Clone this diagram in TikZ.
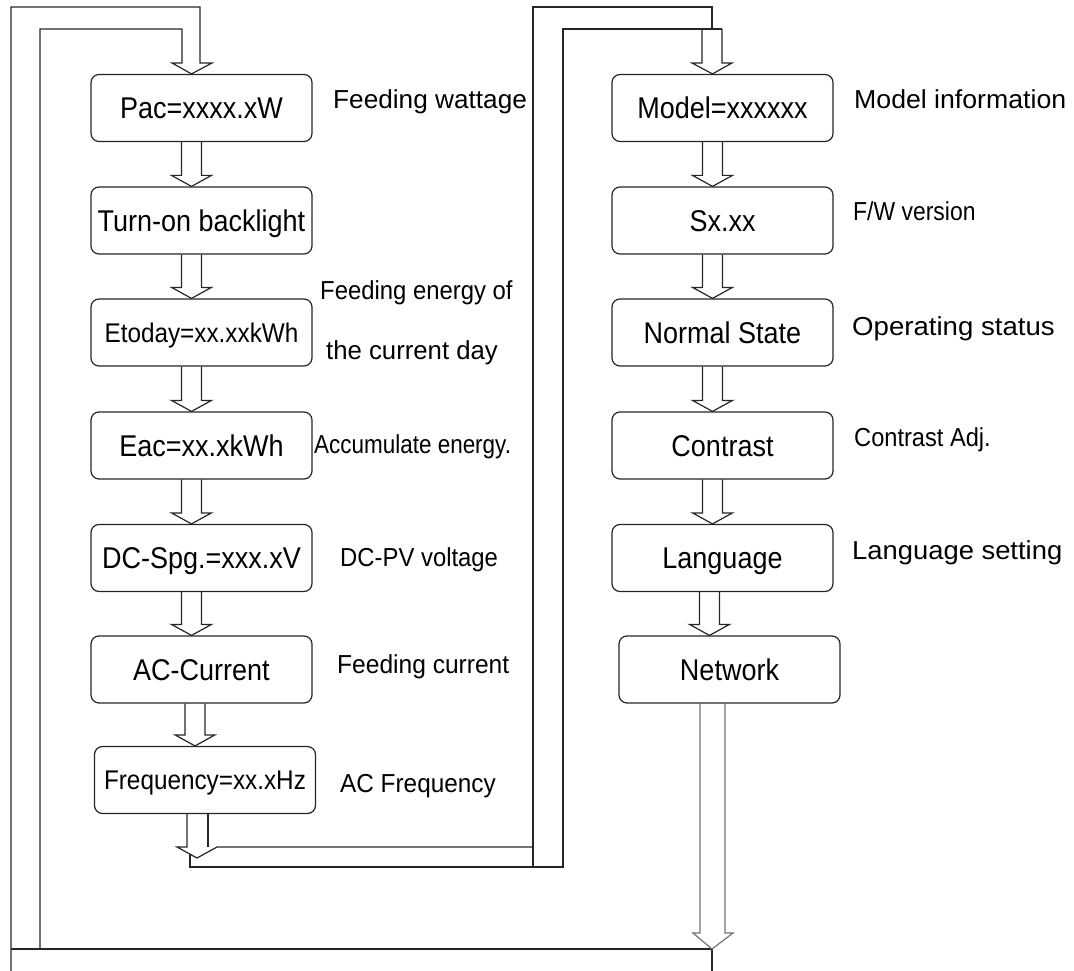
\documentclass[tikz,border=0pt]{standalone}
\usepackage{fontspec}
\setmainfont[FakeStretch=0.9]{Liberation Sans}
\usetikzlibrary{calc}
\newcommand\blockarrow[3][-10]{%
  \draw[ln] let \p1=(#2.south), \p2=(#3.north) in
    ({\x1+(#1pt)-10pt},\y1) -- ({\x1+(#1pt)-10pt},{\y2+11pt}) -- ({\x1+(#1pt)-20pt},{\y2+11pt})
    -- ({\x1+(#1pt)},\y2) -- ({\x1+(#1pt)+20pt},{\y2+11pt}) -- ({\x1+(#1pt)+10pt},{\y2+11pt})
    -- ({\x1+(#1pt)+10pt},\y1);}
\newcommand\wlbl[2]{\scalebox{#1}[1]{#2}}
\begin{document}
\begin{tikzpicture}[x=1pt,y=-1pt,
  ln/.style={line width=1.2pt, draw=black!85, line join=miter},
  box/.style={draw=black!85, line width=1.2pt, rounded corners=8pt, minimum width=221pt,
    minimum height=67pt, inner sep=0pt, font=\fontsize{30}{30}\selectfont,
    text height=21pt, text depth=0pt},
  smallbox/.style={box, font=\fontsize{27}{27}\selectfont, text height=19pt},
  lbl/.style={anchor=base west, inner sep=0pt, font=\fontsize{26}{26}\selectfont}]
\useasboundingbox (0,0) rectangle (1074,971);
% left column
\node[box] (pac) at (201.5,108) {Pac=xxxx.xW};
\node[box] (turn) at (201.5,220.5) {Turn-on backlight};
\node[smallbox] (etoday) at (201.5,332.5) {Etoday=xx.xxkWh};
\node[box] (eac) at (201.5,445.5) {Eac=xx.xkWh};
\node[box] (dc) at (201.5,558) {DC-Spg.=xxx.xV};
\node[box] (ac) at (201.5,669.5) {AC-Current};
\node[smallbox] (freq) at (205,780) {Frequency=xx.xHz};
% right column
\node[box] (model) at (722.5,108) {Model=xxxxxx};
\node[box] (sx) at (722.5,220.5) {Sx.xx};
\node[box] (normal) at (722.5,332.5) {Normal State};
\node[box] (contrast) at (722.5,445.5) {Contrast};
\node[box] (lang) at (722.5,558) {Language};
\node[box] (net) at (729.5,669.5) {Network};
% labels
\node[lbl] (l1) at (333,109) {\wlbl{1.12}{Feeding wattage}};
\node[lbl] (l2) at (320,299) {\wlbl{1.02}{Feeding energy of}};
\node[lbl] (l3) at (326,359) {\wlbl{1.10}{the current day}};
\node[lbl] (l4) at (314,453) {\wlbl{0.96}{Accumulate energy.}};
\node[lbl] (l5) at (340,566) {\wlbl{1.02}{DC-PV voltage}};
\node[lbl] (l6) at (337,673) {\wlbl{1.05}{Feeding current}};
\node[lbl] (l7) at (340,792) {\wlbl{1.04}{AC Frequency}};
\node[lbl] (r1) at (854,109) {\wlbl{1.14}{Model information}};
\node[lbl] (r2) at (853,220) {\wlbl{0.98}{F/W version}};
\node[lbl] (r3) at (852,335) {\wlbl{1.18}{Operating status}};
\node[lbl] (r4) at (854,446) {\wlbl{1.01}{Contrast Adj.}};
\node[lbl] (r5) at (852,559) {\wlbl{1.17}{Language setting}};
% arrows between boxes
\blockarrow{pac}{turn}
\blockarrow{turn}{etoday}
\blockarrow{etoday}{eac}
\blockarrow{eac}{dc}
\blockarrow{dc}{ac}
\blockarrow[-6.5]{ac}{freq}
\blockarrow{model}{sx}
\blockarrow{sx}{normal}
\blockarrow{normal}{contrast}
\blockarrow{contrast}{lang}
\blockarrow[-13]{lang}{net}
% left loop into Pac
\coordinate (botR) at (712,949);
\draw[ln] let \p2=(pac.north) in (11,971) -- (11,7) -- (200,7) -- (200,63) -- (212,63)
  -- ({\x2-10pt},\y2) -- (172,63) -- (182,63) -- (182,29) -- (40,29) -- (40,949);
\draw[ln] (11,949) -- (botR) -- (712,971);
% network arrow down to bottom line
\draw[ln, draw=black!55] let \p1=(net.south) in (700,\y1) -- (700,933) -- (693,933) -- (botR)
  -- (733,933) -- (725,933) -- (725,\y1);
% frequency arrow into channel to model
\draw[ln] let \p1=(freq.south) in (187,\y1) -- (187,847) -- (177,847) -- (197,858) -- (217,847) -- (533,847);
\draw[ln] let \p1=(freq.south) in (208,\y1) -- (208,847);
\draw[ln] (190,854) -- (190,867) -- (563,867) -- (563,29) -- (722,29);
\draw[ln] (533,867) -- (533,7) -- (712,7) -- (712,29);
\draw[ln] let \p2=(model.north) in (702,29) -- (702,63) -- (692,63) -- ({\x2-10pt},\y2)
  -- (732,63) -- (722,63) -- (722,29);
\end{tikzpicture}
\end{document}
